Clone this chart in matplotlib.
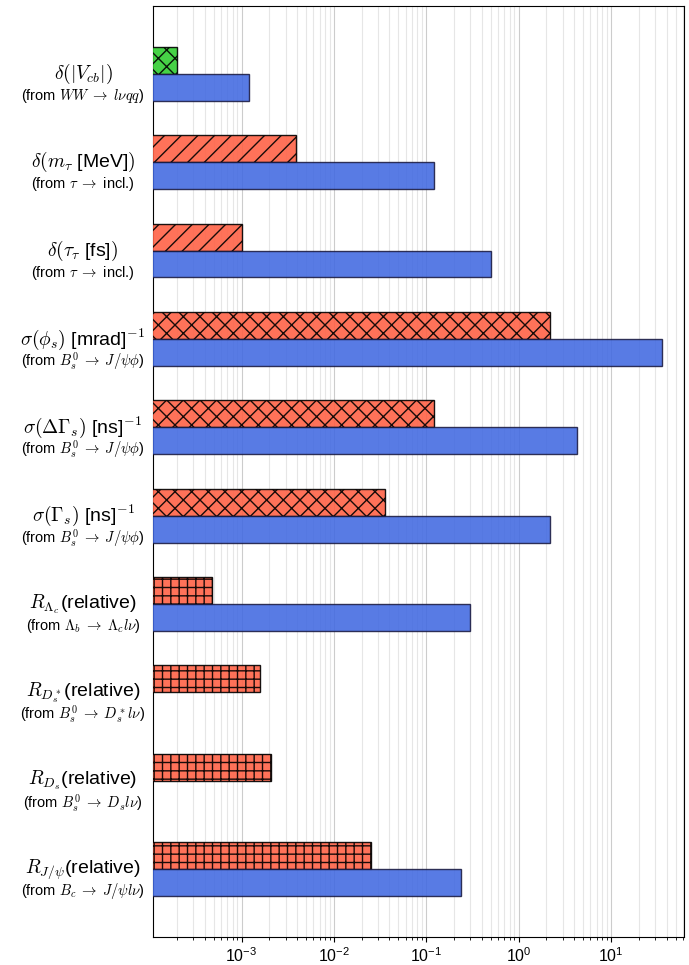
import numpy as np
import matplotlib.pyplot as plt
from matplotlib.transforms import blended_transform_factory

plt.rcParams['font.family'] = ['Liberation Sans', 'DejaVu Sans']
plt.rcParams['mathtext.fontset'] = 'cm'

# main labels (first line) and process labels (second line)
titles = [r'$\delta(|V_{cb}|)$', r'$\delta(m_\tau$ [MeV]$)$', r'$\delta(\tau_\tau$ [fs]$)$',
          r'$\sigma(\phi_s)$ [mrad]$^{-1}$', r'$\sigma(\Delta\Gamma_s)$ [ns]$^{-1}$',
          r'$\sigma(\Gamma_s)$ [ns]$^{-1}$', r'$R_{\Lambda_c}$(relative)',
          r'$R_{D_s^*}$(relative)', r'$R_{D_s}$(relative)', r'$R_{J/\psi}$(relative)']
processes = [r'(from $WW\;\rightarrow\;l\nu qq$)', r'(from $\tau\;\rightarrow$ incl.)',
             r'(from $\tau\;\rightarrow$ incl.)', r'(from $B_s^0\;\rightarrow\;J/\psi\phi$)',
             r'(from $B_s^0\;\rightarrow\;J/\psi\phi$)', r'(from $B_s^0\;\rightarrow\;J/\psi\phi$)',
             r'(from $\Lambda_b\;\rightarrow\;\Lambda_c l\nu$)', r'(from $B_s^0\;\rightarrow\;D_s^* l\nu$)',
             r'(from $B_s^0\;\rightarrow\;D_s l\nu$)', r'(from $B_c\;\rightarrow\;J/\psi l\nu$)']

# top bar of each group (hatched) and bottom bar (blue)
top_values = [2.0e-4, 3.9e-3, 1.0e-3, 2.2, 0.12, 0.036, 4.8e-4, 1.6e-3, 2.1e-3, 0.025]
top_colors = ['limegreen'] + ['tomato'] * 9
top_hatches = ['xx', '//', '//', 'xx', 'xx', 'xx', '++', '++', '++', '++']
blue_values = [1.2e-3, 0.12, 0.5, 36.0, 4.3, 2.2, 0.30, None, None, 0.235]

fig, ax = plt.subplots(figsize=(6.89, 9.65), dpi=100)
fig.subplots_adjust(left=0.222, right=0.993, bottom=0.029, top=0.994)

pos = np.arange(len(titles))
h = 0.305
for i in pos:
    ax.barh(i - h / 2, top_values[i], height=h, color=top_colors[i], alpha=0.9,
            edgecolor='black', linewidth=1, hatch=top_hatches[i], zorder=3)
    if blue_values[i] is not None:
        ax.barh(i + h / 2, blue_values[i], height=h, color='royalblue', alpha=0.88,
                edgecolor='#1a1a40', linewidth=1, zorder=3)

ax.set_xscale('log')
ax.set_xlim(1.1e-4, 62)
ax.set_ylim(len(titles) - 1 + 0.77, -0.77)
ax.set_yticks([])
ax.grid(True, which='major', axis='x', color='#cccccc', linewidth=0.8, zorder=0)
ax.grid(True, which='minor', axis='x', color='#e6e6e6', linewidth=0.8, zorder=0)
ax.tick_params(axis='x', labelsize=11.5)

trans = blended_transform_factory(fig.transFigure, ax.transData)
for i in pos:
    ax.text(83 / 689, i, titles[i], transform=trans, ha='center', va='center', fontsize=14)
    ax.text(83 / 689, i + 0.25, processes[i], transform=trans, ha='center', va='center', fontsize=10.5)

plt.savefig('out.png', dpi=100)
